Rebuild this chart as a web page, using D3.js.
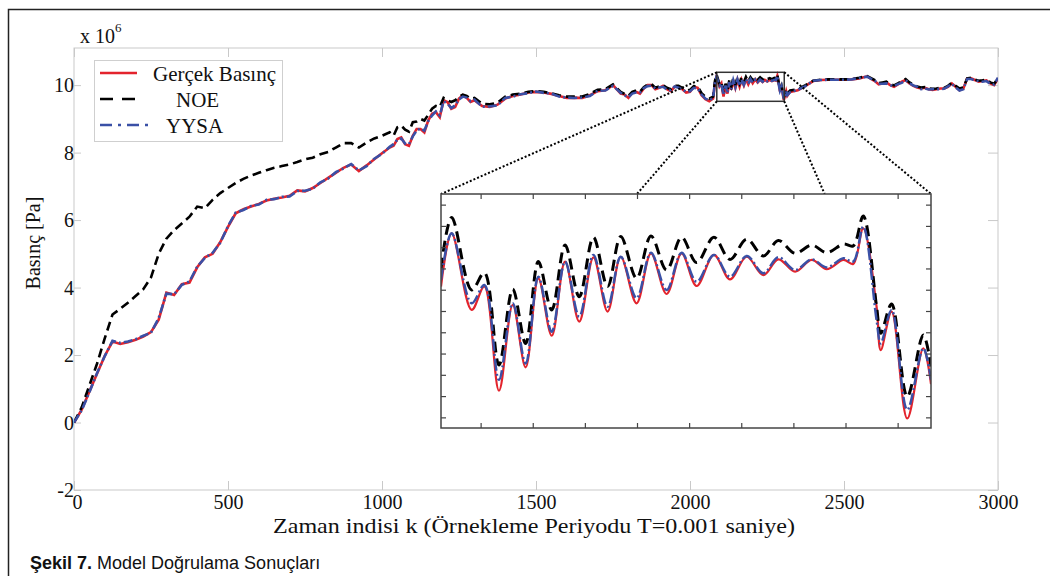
<!DOCTYPE html>
<html><head><meta charset="utf-8">
<script src="https://cdn.jsdelivr.net/npm/d3@7"></script>
<style>body{margin:0;background:#fff}svg{display:block}text{font-family:"Liberation Serif","Times New Roman",serif}</style>
</head><body>
<svg id="c" width="1050" height="576"></svg>
<script>
// ---------- DATA ----------
const seriesNames = ["Gerçek Basınç", "NOE", "YYSA"];
const xTicks = [0, 500, 1000, 1500, 2000, 2500, 3000];
const yTicks = [-2, 0, 2, 4, 6, 8, 10];
// main grid: k = 0, 25, ..., 3000
const mainK = d3.range(0, 3001, 25);
const realMain = [0,0.38,0.92,1.45,1.98,2.4,2.33,2.38,2.45,2.55,2.68,3.05,3.85,3.78,4.1,4.15,4.6,4.9,5.0,5.35,
 5.8,6.2,6.32,6.4,6.48,6.58,6.63,6.67,6.72,6.88,6.85,6.95,7.1,7.25,7.4,7.55,7.65,7.45,7.62,7.8,
 7.98,8.15,8.4,8.25,8.5,8.7,8.95,9.2,9.55,9.3,9.6,9.62,9.55,9.38,9.35,9.42,9.6,9.68,9.72,9.78,
 9.8,9.78,9.74,9.68,9.62,9.63,9.62,9.7,9.82,9.85,10.0,9.75,9.62,9.8,9.9,10.0,9.92,9.88,9.95,9.88,
 9.8,9.92,9.58,9.6,10.05,9.9,10.0,10.0,10.1,10.15,10.12,10.25,9.7,9.8,9.85,9.98,10.12,10.15,10.16,10.16,
 10.16,10.17,10.2,10.26,10.12,10.05,10.0,10.02,10.15,9.98,9.9,9.88,9.88,9.9,10.05,9.85,10.2,10.15,10.12,10.05,10.2];
const noeMain = [0,0.45,1.1,1.75,2.5,3.2,3.37,3.55,3.75,3.95,4.3,5.0,5.45,5.7,5.9,6.1,6.4,6.35,6.6,6.8,
 6.95,7.1,7.22,7.32,7.4,7.48,7.55,7.6,7.65,7.72,7.8,7.85,7.95,8.02,8.15,8.28,8.28,8.15,8.3,8.42,
 8.5,8.6,8.75,8.68,8.9,9.0,9.12,9.38,9.62,9.5,9.65,9.68,9.62,9.45,9.43,9.48,9.66,9.72,9.75,9.8,
 9.82,9.8,9.76,9.7,9.66,9.66,9.66,9.74,9.86,9.88,10.02,9.8,9.68,9.84,9.94,10.03,9.96,9.92,9.98,9.92,
 9.86,9.96,9.66,9.66,10.1,10.0,10.1,10.1,10.2,10.2,10.2,10.3,9.8,9.84,9.88,10.0,10.13,10.16,10.17,10.17,
 10.17,10.18,10.22,10.27,10.15,10.08,10.03,10.05,10.18,10.02,9.93,9.9,9.9,9.92,10.07,9.9,10.2,10.16,10.14,10.08,10.2];
const yysaMain = [0,0.36,0.9,1.47,1.97,2.42,2.36,2.4,2.47,2.57,2.66,3.1,3.82,3.8,4.08,4.18,4.62,4.88,5.03,5.33,
 5.82,6.22,6.3,6.42,6.46,6.6,6.62,6.69,6.7,6.86,6.87,6.93,7.12,7.23,7.42,7.53,7.66,7.47,7.6,7.82,
 7.96,8.17,8.38,8.27,8.48,8.72,8.93,9.22,9.52,9.32,9.58,9.63,9.57,9.36,9.37,9.4,9.62,9.66,9.73,9.76,
 9.81,9.77,9.75,9.66,9.63,9.62,9.63,9.68,9.83,9.84,9.98,9.77,9.64,9.78,9.91,9.98,9.93,9.87,9.96,9.87,
 9.82,9.9,9.6,9.62,10.06,9.92,10.0,10.01,10.1,10.15,10.12,10.25,9.72,9.79,9.86,9.97,10.13,10.15,10.16,10.16,
 10.16,10.17,10.21,10.25,10.13,10.04,10.0,10.03,10.14,9.99,9.88,9.87,9.88,9.89,10.04,9.84,10.18,10.14,10.1,10.04,10.22];
// extra detail samples in the noisy stretches
const detailK = [1037.5,1062.5,1087.5,1112.5,1137.5,1162.5,1187.5,1212.5,1237.5,1262.5,1287.5,
 1787.5,1812.5,1837.5,1862.5,1887.5,1912.5,1937.5,1962.5,1987.5,2012.5,2037.5,2062.5,
 2612.5,2637.5,2662.5,2687.5,2712.5,2737.5,2762.5,2787.5,2812.5,2837.5,2862.5,2887.5,2912.5,2937.5,2962.5,2987.5];
const realDetail = [8.2,8.45,8.2,8.7,8.6,9.15,9.05,9.5,9.35,9.7,9.5,
 9.72,9.78,9.75,10.0,9.88,9.98,9.82,9.95,9.78,9.95,9.7,9.52,
 10.02,10.08,9.95,10.1,10.05,9.93,9.92,9.86,9.9,9.95,9.95,9.9,10.2,10.1,10.14,10.0];
const noeDetail = [8.5,8.8,8.62,8.92,8.95,9.3,9.35,9.55,9.55,9.72,9.6,
 9.74,9.8,9.8,10.02,9.92,10.0,9.88,9.98,9.84,9.97,9.76,9.6,
 10.06,10.1,9.99,10.12,10.08,9.96,9.94,9.89,9.92,9.98,9.98,9.93,10.22,10.13,10.16,10.04];
const yysaDetail = [8.25,8.42,8.25,8.65,8.65,9.1,9.1,9.45,9.4,9.66,9.52,
 9.7,9.75,9.78,9.97,9.9,9.95,9.85,9.92,9.8,9.92,9.72,9.55,
 10.04,10.05,9.97,10.07,10.06,9.95,9.9,9.88,9.88,9.96,9.93,9.88,10.18,10.12,10.12,10.02];
// zoomed detail (inset)
const insetK = [2081,2086.1,2095.7,2101.8,2108.8,2115.4,2121.6,2127.7,2134.1,2140.5,2147.3,2154.1,2160.9,2167.2,2174.8,2181.7,2189.2,2196.4,
 2203.6,2211.9,2219.6,2227.6,2235.6,2242.8,2250.8,2258.8,2266.0,2274.0,2278.7,2283.5,2289.9,2291.9,2297.1,2304.6,2312.3,2316];
const realInset = [10.052,10.252,9.964,10.052,9.660,9.983,9.748,10.083,9.867,10.146,9.920,10.162,9.958,10.164,9.989,10.177,10.024,10.177,
 10.054,10.171,10.079,10.164,10.095,10.154,10.108,10.152,10.117,10.152,10.137,10.271,9.976,9.813,9.958,9.556,9.820,9.685];
const noeInset = [10.120,10.312,10.039,10.104,9.757,10.042,9.838,10.146,9.964,10.208,10.014,10.237,10.052,10.240,10.083,10.242,10.114,10.237,
 10.142,10.237,10.154,10.230,10.167,10.225,10.177,10.208,10.179,10.212,10.205,10.317,9.976,9.876,9.986,9.638,9.870,9.751];
const yysaInset = [10.077,10.252,9.989,10.058,9.701,9.989,9.763,10.089,9.882,10.146,9.939,10.171,9.976,10.164,10.008,10.179,10.039,10.179,
 10.070,10.171,10.089,10.167,10.102,10.162,10.114,10.154,10.124,10.158,10.146,10.277,9.926,9.838,9.964,9.588,9.820,9.701];
const insetXDomain = [2081, 2316];
const insetYDomain = [9.52, 10.40];
const insetXTicks = [2100, 2125, 2150, 2175, 2200, 2225, 2250, 2275, 2300];
const insetYTicks = [9.56, 9.64, 9.72, 9.80, 9.88, 9.96, 10.04, 10.12, 10.20, 10.28, 10.36];
const zoomBox = [2087, 2306, 9.52, 10.38]; // k0, k1, p0, p1
const connectorTargets = [2081, 2175, 2265, 2316];

// ---------- DRAW ----------
const SERIF = '"Liberation Serif","Times New Roman",serif';
const svg = d3.select("#c");
const L = 74, R = 998, T = 48, B = 490;
const x = d3.scaleLinear([0, 3000], [L, R]);
const y = d3.scaleLinear([-2, 11.1], [B, T]);
const axisCol = "#c9c9c9";
const colors = {real: "#e3232c", noe: "#000", yysa: "#3a50a6"};
const fmt = d => (d < 0 ? "-" + Math.abs(d) : String(d));

// figure frame
svg.append("rect").attr("x", 8.5).attr("y", 9.5).attr("width", 1100).attr("height", 700)
  .attr("fill", "none").attr("stroke", "#222").attr("stroke-width", 1.5);

// axes box
svg.append("rect").attr("x", L).attr("y", T).attr("width", R - L).attr("height", B - T)
  .attr("fill", "none").attr("stroke", axisCol).attr("stroke-width", 1);

const gB = svg.append("g").attr("transform", `translate(0,${B})`)
  .call(d3.axisBottom(x).tickValues(xTicks).tickSize(-9).tickPadding(5).tickFormat(fmt));
const gT = svg.append("g").attr("transform", `translate(0,${T})`)
  .call(d3.axisTop(x).tickValues(xTicks).tickSize(-9).tickFormat(""));
const gL = svg.append("g").attr("transform", `translate(${L},0)`)
  .call(d3.axisLeft(y).tickValues(yTicks).tickSize(-7).tickPadding(0).tickFormat(fmt));
const gR = svg.append("g").attr("transform", `translate(${R},0)`)
  .call(d3.axisRight(y).tickValues(yTicks).tickSize(-10).tickFormat(""));
[gB, gT, gL, gR].forEach(g => {
  g.attr("font-family", SERIF).attr("font-size", 20);
  g.select(".domain").remove();
  g.selectAll(".tick line").attr("stroke", axisCol);
  g.selectAll("text").attr("fill", "#111").attr("font-family", SERIF).style("font-size", "20px");
});
gB.selectAll(".tick text").attr("dx", (d) => d === 0 ? 3 : 0);
gL.selectAll(".tick text").attr("dy", "0.34em");

// exponent
svg.append("text").attr("x", 80).attr("y", 43).style("font-size", "20px").attr("fill", "#111").text("x 10");
svg.append("text").attr("x", 115).attr("y", 32).style("font-size", "13px").attr("fill", "#111").text("6");

// axis titles
svg.append("text").attr("x", 534).attr("y", 533).attr("text-anchor", "middle")
  .style("font-size", "22px").attr("fill", "#111")
  .attr("textLength", 522).attr("lengthAdjust", "spacingAndGlyphs")
  .text("Zaman indisi k (Örnekleme Periyodu T=0.001 saniye)");
svg.append("text").attr("transform", "translate(40,243) rotate(-90)").attr("text-anchor", "middle")
  .style("font-size", "20px").attr("fill", "#111").text("Basınç [Pa]");

// caption
const cap = svg.append("text").attr("x", 30).attr("y", 569).style("font-size", "18px")
  .style("font-family", '"Liberation Sans",Arial,sans-serif').attr("fill", "#111");
cap.append("tspan").attr("font-weight", "bold").text("Şekil 7.");
cap.append("tspan").text(" Model Doğrulama Sonuçları");

// build main series (detail samples added, inset detail replaces the zoomed segment)
function build(mainVals, detailVals, insetVals) {
  const pts = mainK.map((k, i) => [k, mainVals[i]]);
  detailK.forEach((k, i) => pts.push([k, detailVals[i]]));
  const out = pts.filter(p => p[0] < insetXDomain[0] || p[0] > insetXDomain[1]);
  insetK.forEach((k, i) => out.push([k, insetVals[i]]));
  return out.sort((a, b) => a[0] - b[0]);
}
const realS = build(realMain, realDetail, realInset);
const noeS = build(noeMain, noeDetail, noeInset);
const yysaS = build(yysaMain, yysaDetail, yysaInset);

svg.append("clipPath").attr("id", "pc").append("rect")
  .attr("x", L).attr("y", T).attr("width", R - L).attr("height", B - T);
const line = d3.line().x(d => x(d[0])).y(d => y(d[1]));
const gM = svg.append("g").attr("clip-path", "url(#pc)");
gM.append("path").attr("d", line(realS)).attr("fill", "none").attr("stroke", colors.real).attr("stroke-width", 2.6);
gM.append("path").attr("d", line(noeS)).attr("fill", "none").attr("stroke", colors.noe).attr("stroke-width", 2.6)
  .attr("stroke-dasharray", "9,5");
gM.append("path").attr("d", line(yysaS)).attr("fill", "none").attr("stroke", colors.yysa).attr("stroke-width", 2.6)
  .attr("stroke-dasharray", "9,3,2,3");

// legend
const lg = svg.append("g");
lg.append("rect").attr("x", 94.5).attr("y", 60.5).attr("width", 188).attr("height", 81)
  .attr("fill", "#fff").attr("stroke", "#cfcfcf");
const legendItems = [
  {name: seriesNames[0], col: colors.real, dash: null, tx: 153, x2: 137},
  {name: seriesNames[1], col: colors.noe, dash: "13,9", tx: 176, x2: 139},
  {name: seriesNames[2], col: colors.yysa, dash: "12,6,3,6", tx: 166, x2: 148}
];
legendItems.forEach((it, i) => {
  const cy = 73 + i * 26;
  const l = lg.append("line").attr("x1", 100).attr("x2", it.x2).attr("y1", cy).attr("y2", cy)
    .attr("stroke", it.col).attr("stroke-width", 2.5);
  if (it.dash) l.attr("stroke-dasharray", it.dash);
  lg.append("text").attr("x", it.tx).attr("y", cy + 8).style("font-size", "21px").attr("fill", "#111").text(it.name);
});

// inset scales
const IL = 441, IR = 931, IT = 194, IB = 428;
const xi = d3.scaleLinear(insetXDomain, [IL, IR]);
const yi = d3.scaleLinear(insetYDomain, [IB, IT]);

// zoom box
svg.append("rect").attr("x", x(zoomBox[0])).attr("y", y(zoomBox[3]))
  .attr("width", x(zoomBox[1]) - x(zoomBox[0])).attr("height", y(zoomBox[2]) - y(zoomBox[3]))
  .attr("fill", "none").attr("stroke", "#333").attr("stroke-width", 1.5);
// connectors
const fromPts = [[zoomBox[0], zoomBox[3]], [zoomBox[0], zoomBox[2]], [zoomBox[1], zoomBox[2]], [zoomBox[1], zoomBox[3]]];
fromPts.forEach((p, i) => {
  svg.append("line").attr("x1", x(p[0])).attr("y1", y(p[1]))
    .attr("x2", xi(connectorTargets[i])).attr("y2", yi(insetYDomain[1]))
    .attr("stroke", "#000").attr("stroke-width", 2).attr("stroke-dasharray", "2,2");
});

// inset
const gi = svg.append("g");
gi.append("rect").attr("x", IL).attr("y", IT).attr("width", IR - IL).attr("height", IB - IT).attr("fill", "#fff");
svg.append("clipPath").attr("id", "ic").append("rect").attr("x", IL).attr("y", IT).attr("width", IR - IL).attr("height", IB - IT);
const lineI = d3.line().x((d, i) => xi(insetK[i])).y(d => yi(d)).curve(d3.curveCatmullRom.alpha(0.5));
const gic = gi.append("g").attr("clip-path", "url(#ic)");
gic.append("path").attr("d", lineI(realInset)).attr("fill", "none").attr("stroke", colors.real).attr("stroke-width", 2.2);
gic.append("path").attr("d", lineI(noeInset)).attr("fill", "none").attr("stroke", colors.noe).attr("stroke-width", 3)
  .attr("stroke-dasharray", "11,6");
gic.append("path").attr("d", lineI(yysaInset)).attr("fill", "none").attr("stroke", colors.yysa).attr("stroke-width", 2.5)
  .attr("stroke-dasharray", "12,3,2,3");
const insetAxes = [
  [d3.axisBottom(xi).tickValues(insetXTicks), `translate(0,${IB})`],
  [d3.axisTop(xi).tickValues(insetXTicks), `translate(0,${IT})`],
  [d3.axisLeft(yi).tickValues(insetYTicks), `translate(${IL},0)`],
  [d3.axisRight(yi).tickValues(insetYTicks), `translate(${IR},0)`]
];
insetAxes.forEach(([ax, tr]) => {
  const g = gi.append("g").attr("transform", tr).call(ax.tickSize(-5).tickFormat(""));
  g.select(".domain").remove();
  g.selectAll(".tick line").attr("stroke", "#444").attr("stroke-width", 1.2);
});
gi.append("rect").attr("x", IL).attr("y", IT).attr("width", IR - IL).attr("height", IB - IT)
  .attr("fill", "none").attr("stroke", "#444").attr("stroke-width", 1.5);
</script>
</body></html>
